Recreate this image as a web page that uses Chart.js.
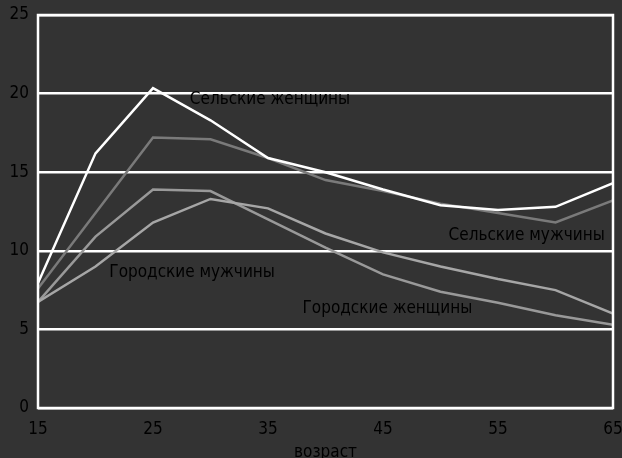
<!DOCTYPE html>
<html><head><meta charset="utf-8">
<script src="https://cdn.jsdelivr.net/npm/chart.js@4/dist/chart.umd.min.js"></script>
<style>html,body{margin:0;padding:0;background:#333333;}#wrap{width:622px;height:458px;}</style>
</head><body><div id="wrap"><canvas id="c" width="622" height="458"></canvas></div>
<script>
const ages = [15,20,25,30,35,40,45,50,55,60,65];
const ruralWomen = [7.95,16.2,20.35,18.3,15.9,15.0,13.9,12.9,12.6,12.8,14.3];
const ruralMen   = [7.6,12.4,17.2,17.1,15.9,14.5,13.8,13.0,12.4,11.8,13.2];
const urbanMen   = [6.75,9.0,11.8,13.3,12.7,11.1,9.9,9.0,8.2,7.5,6.0];
const urbanWomen = [6.75,10.9,13.9,13.8,12.0,10.2,8.5,7.4,6.7,5.9,5.3];
const yTicks = [0,5,10,15,20,25];
const xTicks = [15,25,35,45,55,65];
const labels = [
  {text:'Сельские женщины', x:28.2, y:19.65},
  {text:'Сельские мужчины', x:50.7, y:10.95},
  {text:'Городские мужчины', x:21.2, y:8.6},
  {text:'Городские женщины', x:38.0, y:6.35}
];
const FONT = "'Liberation Sans Narrow','DejaVu Sans Condensed',sans-serif";
Chart.defaults.font.family = FONT;
Chart.defaults.font.size = 17;
Chart.defaults.color = '#000';
const toPts = arr => arr.map((v,i)=>({x:ages[i], y:v}));
const frame = {
  id:'frame',
  afterDatasetsDraw(chart){
    const {ctx, chartArea:a} = chart;
    ctx.save();
    ctx.strokeStyle='#fff'; ctx.lineWidth=2.5;
    ctx.strokeRect(a.left,a.top,a.right-a.left,a.bottom-a.top);
    ctx.restore();
  }
};
const notes = {
  id:'notes',
  afterDatasetsDraw(chart){
    const {ctx, scales:{x,y}} = chart;
    ctx.save();
    ctx.font = '17px ' + FONT;
    ctx.fillStyle = '#000';
    ctx.textBaseline = 'middle';
    ctx.textAlign = 'left';
    labels.forEach(l=>{ ctx.fillText(l.text, x.getPixelForValue(l.x), y.getPixelForValue(l.y)); });
    ctx.restore();
  }
};
new Chart(document.getElementById('c'), {
  type:'line',
  data:{datasets:[
    {label:'Сельские женщины', data:toPts(ruralWomen), borderColor:'#ffffff', borderWidth:2.5},
    {label:'Сельские мужчины', data:toPts(ruralMen), borderColor:'#7a7a7a', borderWidth:2.5},
    {label:'Городские мужчины', data:toPts(urbanMen), borderColor:'#a6a6a6', borderWidth:2.5},
    {label:'Городские женщины', data:toPts(urbanWomen), borderColor:'#999999', borderWidth:2.5}
  ]},
  options:{
    responsive:false, animation:false,
    layout:{padding:{top:15,right:9,left:0,bottom:0}},
    elements:{point:{radius:0}, line:{tension:0}},
    plugins:{legend:{display:false}, tooltip:{enabled:false}},
    scales:{
      x:{type:'linear', min:15, max:65,
         afterBuildTicks(s){ s.ticks = xTicks.map(v=>({value:v})); },
         afterFit(s){ s.height=50; s.paddingLeft=0; s.paddingRight=0; },
         grid:{display:false, drawTicks:false},
         border:{display:false},
         ticks:{padding:11, color:'#000', maxRotation:0, autoSkip:false},
         title:{display:true, text:'возраст', color:'#000', padding:{top:0,bottom:-5}, font:{size:17}}
      },
      y:{min:0, max:25,
         afterBuildTicks(s){ s.ticks = yTicks.map(v=>({value:v})); },
         afterFit(s){ s.width=38; s.paddingTop=0; s.paddingBottom=0; },
         grid:{color:'#ffffff', lineWidth:2.5, drawTicks:false},
         border:{display:false},
         ticks:{padding:9, color:'#000'}
      }
    }
  },
  plugins:[frame, notes]
});
</script></body></html>
